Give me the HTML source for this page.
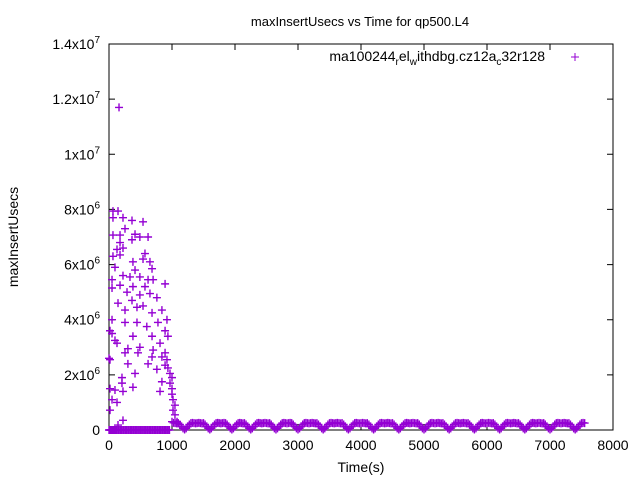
<!DOCTYPE html>
<html><head><meta charset="utf-8"><style>
body{margin:0;background:#fff;}
svg{display:block;font-family:"Liberation Sans",sans-serif;}
</style></head><body>
<svg id="chart" width="640" height="480">
<rect width="640" height="480" fill="#fff"/>
<text x="360" y="26" font-size="13" text-anchor="middle">maxInsertUsecs vs Time for qp500.L4</text>
<text transform="translate(18,237) rotate(-90)" font-size="14" text-anchor="middle">maxInsertUsecs</text>
<text x="361" y="472" font-size="14" text-anchor="middle">Time(s)</text>
<g id="axes"></g>
<g id="marks"></g>
<g>
<text x="545" y="61" font-size="14" text-anchor="end">ma100244<tspan font-size="10" dy="4">r</tspan><tspan dy="-4">el</tspan><tspan font-size="10" dy="4">w</tspan><tspan dy="-4">ithdbg.cz12a</tspan><tspan font-size="10" dy="4">c</tspan><tspan dy="-4">32r128</tspan></text>
<path d="M571,57h8M575,53v8" stroke="#9400d3" stroke-width="1"/>
</g>
</svg>
<script>
const xTicks=[0,1000,2000,3000,4000,5000,6000,7000,8000];
const yTickMant=["0","2x10","4x10","6x10","8x10","1x10","1.2x10","1.4x10"];
const yTickExp=["","6","6","6","6","7","7","7"];
const yTicks=[0,2e6,4e6,6e6,8e6,1e7,1.2e7,1.4e7];
const zeroTimes=[0,10,20,30,40,50,60,70,80,90,100,120,140,160,180,200,220,240,260,280,300,320,340,360,380,400,420,440,460,480,500,520,540,560,580,600,620,640,660,680,700,720,740,760,780,800,820,840,860,880,900,920,940,960];
const clusterT=[63,143,63,222,365,540,254,63,175,413,490,620,365,175,222,127,571,63,175,540,650,380,95,683,413,222,333,490,48,620,700,890,175,48,380,571,286,490,650,760,365,143,444,540,254,840,683,920,48,254,444,777,600,890,48,380,683,95,935,810,127,490,300,700,254,460,890,840,683,920,16,300,620,890,935,760,413,968,1000,206,840,968,206,1000,16,95,380,810,222,1000,1016,48,127,1047,1016,16,1047,222,143,1080,159,0,16];
const clusterV=[7.94e6,7.94e6,7.7e6,7.7e6,7.6e6,7.55e6,7.3e6,7.07e6,7.07e6,7.1e6,7.0e6,7.0e6,6.9e6,6.8e6,6.6e6,6.55e6,6.4e6,6.3e6,6.35e6,6.2e6,6.1e6,6.1e6,5.9e6,5.85e6,5.8e6,5.6e6,5.55e6,5.55e6,5.45e6,5.45e6,5.45e6,5.3e6,5.25e6,5.15e6,5.2e6,5.2e6,5.0e6,4.9e6,4.95e6,4.8e6,4.7e6,4.6e6,4.45e6,4.5e6,4.35e6,4.35e6,4.25e6,4.0e6,4.0e6,3.9e6,3.9e6,3.9e6,3.75e6,3.6e6,3.5e6,3.4e6,3.4e6,3.25e6,3.4e6,3.15e6,3.15e6,3.0e6,2.95e6,2.9e6,2.8e6,2.8e6,2.8e6,2.65e6,2.65e6,2.55e6,2.55e6,2.4e6,2.4e6,2.35e6,2.25e6,2.2e6,2.05e6,2.05e6,1.9e6,1.9e6,1.75e6,1.7e6,1.7e6,1.5e6,1.5e6,1.45e6,1.55e6,1.4e6,1.4e6,1.3e6,1.1e6,1.1e6,1.0e6,0.9e6,0.72e6,0.72e6,0.55e6,0.35e6,0.18e6,0.3e6,1.17e7,2.6e6,3.6e6];
const bandT=[1000,1025,1050,1075,1100,1125,1150,1175,1200,1225,1250,1275,1300,1325,1350,1375,1400,1425,1450,1475,1500,1525,1550,1575,1600,1625,1650,1675,1700,1725,1750,1775,1800,1825,1850,1875,1900,1925,1950,1975,2000,2025,2050,2075,2100,2125,2150,2175,2200,2225,2250,2275,2300,2325,2350,2375,2400,2425,2450,2475,2500,2525,2550,2575,2600,2625,2650,2675,2700,2725,2750,2775,2800,2825,2850,2875,2900,2925,2950,2975,3000,3025,3050,3075,3100,3125,3150,3175,3200,3225,3250,3275,3300,3325,3350,3375,3400,3425,3450,3475,3500,3525,3550,3575,3600,3625,3650,3675,3700,3725,3750,3775,3800,3825,3850,3875,3900,3925,3950,3975,4000,4025,4050,4075,4100,4125,4150,4175,4200,4225,4250,4275,4300,4325,4350,4375,4400,4425,4450,4475,4500,4525,4550,4575,4600,4625,4650,4675,4700,4725,4750,4775,4800,4825,4850,4875,4900,4925,4950,4975,5000,5025,5050,5075,5100,5125,5150,5175,5200,5225,5250,5275,5300,5325,5350,5375,5400,5425,5450,5475,5500,5525,5550,5575,5600,5625,5650,5675,5700,5725,5750,5775,5800,5825,5850,5875,5900,5925,5950,5975,6000,6025,6050,6075,6100,6125,6150,6175,6200,6225,6250,6275,6300,6325,6350,6375,6400,6425,6450,6475,6500,6525,6550,6575,6600,6625,6650,6675,6700,6725,6750,6775,6800,6825,6850,6875,6900,6925,6950,6975,7000,7025,7050,7075,7100,7125,7150,7175,7200,7225,7250,7275,7300,7325,7350,7375,7400,7425,7450,7475,7500,7525,7550];
const bandV=[3e5,2.6e5,2.5e5,2.4e5,2.5e5,2e5,1.2e5,6e4,2e4,6e4,1.2e5,2e5,2.5e5,2.6e5,2.5e5,2.4e5,2.5e5,2.6e5,2.5e5,2.4e5,2.5e5,2e5,1.2e5,6e4,2e4,6e4,1.2e5,2e5,2.5e5,2.6e5,2.5e5,2.4e5,2.5e5,2.6e5,2.5e5,2e5,1.2e5,6e4,2e4,6e4,1.2e5,2e5,2.5e5,2.6e5,2.5e5,2.4e5,2.5e5,2e5,1.2e5,6e4,2e4,6e4,1.2e5,2e5,2.5e5,2.6e5,2.5e5,2.4e5,2.5e5,2.6e5,2.5e5,2.4e5,2.5e5,2e5,1.2e5,6e4,2e4,6e4,1.2e5,2e5,2.5e5,2.6e5,2.5e5,2.4e5,2.5e5,2.6e5,2.5e5,2e5,1.2e5,6e4,2e4,6e4,1.2e5,2e5,2.5e5,2.6e5,2.5e5,2.4e5,2.5e5,2.6e5,2.5e5,2.4e5,2.5e5,2e5,1.2e5,6e4,2e4,6e4,1.2e5,2e5,2.5e5,2.6e5,2.5e5,2.4e5,2.5e5,2.6e5,2.5e5,2.4e5,2.5e5,2e5,1.2e5,6e4,2e4,6e4,1.2e5,2e5,2.5e5,2.6e5,2.5e5,2.4e5,2.5e5,2.6e5,2.5e5,2.4e5,2.5e5,2e5,1.2e5,6e4,2e4,6e4,1.2e5,2e5,2.5e5,2.6e5,2.5e5,2.4e5,2.5e5,2.6e5,2.5e5,2.4e5,2.5e5,2e5,1.2e5,6e4,2e4,6e4,1.2e5,2e5,2.5e5,2.6e5,2.5e5,2.4e5,2.5e5,2.6e5,2.5e5,2.4e5,2.5e5,2e5,1.2e5,6e4,2e4,6e4,1.2e5,2e5,2.5e5,2.6e5,2.5e5,2.4e5,2.5e5,2.6e5,2.5e5,2.4e5,2.5e5,2e5,1.2e5,6e4,2e4,6e4,1.2e5,2e5,2.5e5,2.6e5,2.5e5,2.4e5,2.5e5,2.6e5,2.5e5,2.4e5,2.5e5,2e5,1.2e5,6e4,2e4,6e4,1.2e5,2e5,2.5e5,2.6e5,2.5e5,2.4e5,2.5e5,2.6e5,2.5e5,2.4e5,2.5e5,2e5,1.2e5,6e4,2e4,6e4,1.2e5,2e5,2.5e5,2.6e5,2.5e5,2.4e5,2.5e5,2.6e5,2.5e5,2.4e5,2.5e5,2e5,1.2e5,6e4,2e4,6e4,1.2e5,2e5,2.5e5,2.6e5,2.5e5,2.4e5,2.5e5,2.6e5,2.5e5,2.4e5,2.5e5,2e5,1.2e5,6e4,2e4,6e4,1.2e5,2e5,2.5e5,2.6e5,2.5e5,2.4e5,2.5e5,2.6e5,2.5e5,2.4e5,2.5e5,2e5,1.2e5,6e4,2e4,6e4,1.2e5,2e5,2.5e5,2.6e5,2.5e5,2.4e5,2.5e5,2.6e5,2.5e5,2e5,1.2e5,6e4,2e4];

const L=109,R=613,T=44,B=430;
const xs=t=>L+(t/8000)*(R-L);
const ys=v=>B-(v/1.4e7)*(B-T);
const NS="http://www.w3.org/2000/svg";
const axes=document.getElementById('axes');
const marks=document.getElementById('marks');
function mk(tag,attrs,parent){const e=document.createElementNS(NS,tag);for(const k in attrs)e.setAttribute(k,attrs[k]);parent.appendChild(e);return e;}

let frame=mk('rect',{x:L,y:T,width:R-L,height:B-T,fill:'none',stroke:'#000','stroke-width':1},axes);



xTicks.forEach(t=>{
  const x=xs(t);
  let p=mk('path',{d:`M${x},${B}v-6M${x},${T}v6`,stroke:'#000','stroke-width':1},axes);
  
  
  let tx=mk('text',{x:x,y:B+20,'font-size':14,'text-anchor':'middle'},axes);
  tx.textContent=String(t);
  
  
});
yTicks.forEach((v,i)=>{
  const y=ys(v);
  let p=mk('path',{d:`M${L},${y}h6M${R},${y}h-6`,stroke:'#000','stroke-width':1},axes);
  
  
  let tx=mk('text',{x:100,y:y+5,'font-size':14,'text-anchor':'end'},axes);
  
  
  if(yTickExp[i]){
    tx.innerHTML=yTickMant[i]+'<tspan font-size="10" dy="-6">'+yTickExp[i]+'</tspan>';
  } else tx.textContent=yTickMant[i];
});

function plus(t,v){
  const x=xs(t),y=ys(v);
  let p=mk('path',{d:`M${x-4},${y}h8M${x},${y-4}v8`,stroke:'#9400d3','stroke-width':1.4},marks);
  
  
}
zeroTimes.forEach(t=>plus(t,0));
clusterT.forEach((t,i)=>plus(t,clusterV[i]));
bandT.forEach((t,i)=>{ if(bandV[i]!==undefined) plus(t,bandV[i]); });
</script>
</body></html>
